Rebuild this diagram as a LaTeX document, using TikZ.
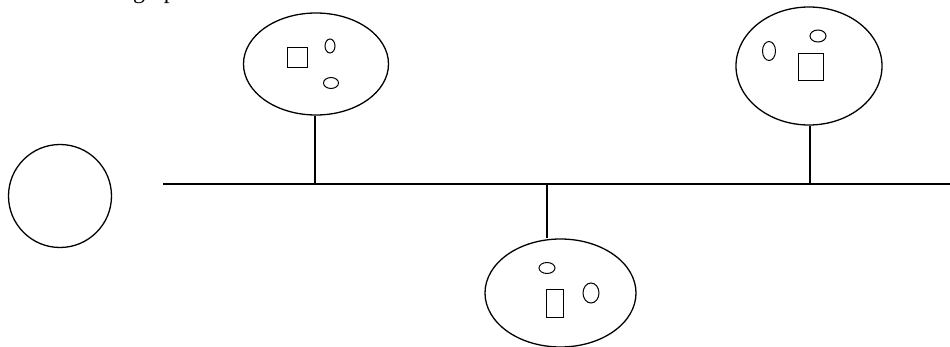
\documentclass[tikz,border=0pt]{standalone}
\usepackage{fontspec}
\setmainfont{Liberation Serif}
\usetikzlibrary{shapes.geometric}
\tikzset{
  line/.style={line width=1.3pt, draw=black},
  host/.style={line, ellipse, inner sep=0pt},
  dot/.style={line width=1pt, draw=black, ellipse, inner sep=0pt},
  box/.style={line width=1pt, draw=black, rectangle, inner sep=0pt},
}
\begin{document}
\begin{tikzpicture}[x=1pt,y=-1pt]
\useasboundingbox (0,0) rectangle (950,347);
\begin{scope}
\clip (0,0) rectangle (950,347);
\node[anchor=base west, font=\fontsize{24}{28}\selectfont, inner sep=0pt] (title) at (133,-1) {graph};
% lone circle
\node[host, circle, minimum size=103pt] (c) at (60,196) {};
% bus
\coordinate (busL) at (163,184);
\coordinate (busR) at (950,184);
\draw[line] (busL) -- (busR);
% host 1 (top left)
\node[host, minimum width=145pt, minimum height=102pt] (h1) at (316,64) {};
\node[box, minimum width=20pt, minimum height=20pt] (h1s) at (297,58) {};
\node[dot, minimum width=10pt, minimum height=14pt] (h1a) at (330,46) {};
\node[dot, minimum width=15pt, minimum height=11pt] (h1b) at (331,83) {};
\coordinate (b1) at (315,184);
\draw[line] (h1.south -| b1) -- (b1);
% host 2 (top right)
\node[host, minimum width=146pt, minimum height=118pt] (h2) at (809,66) {};
\node[box, minimum width=25pt, minimum height=27pt] (h2s) at (810.5,67) {};
\node[dot, minimum width=13pt, minimum height=19pt] (h2a) at (769,51) {};
\node[dot, minimum width=16pt, minimum height=12pt] (h2b) at (818,36) {};
\coordinate (b2) at (810,184);
\draw[line] (h2.south -| b2) -- (b2);
% host 3 (bottom)
\node[host, minimum width=151pt, minimum height=108pt] (h3) at (560.5,293) {};
\node[box, minimum width=17pt, minimum height=27pt] (h3s) at (554.5,303.5) {};
\node[dot, minimum width=16pt, minimum height=11pt] (h3a) at (547,268) {};
\node[dot, minimum width=16pt, minimum height=20pt] (h3b) at (591,293) {};
\coordinate (b3) at (547,184);
\draw[line] (b3) -- (b3 |- h3.north);
\end{scope}
\end{tikzpicture}
\end{document}
